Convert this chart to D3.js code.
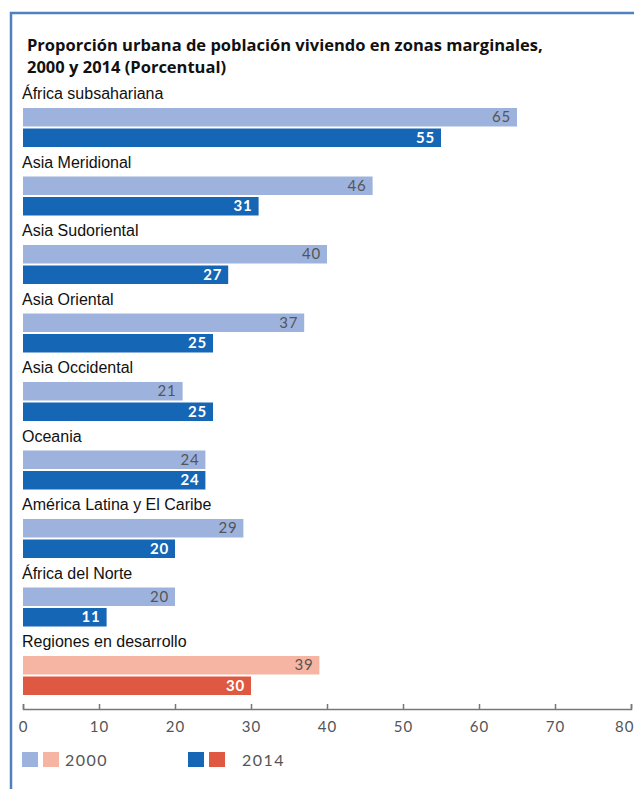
<!DOCTYPE html>
<html>
<head>
<meta charset="utf-8">
<script src="https://cdn.jsdelivr.net/npm/d3@7"></script>
<style>
  body { margin: 0; background: #fff; }
  svg { display: block; }
</style>
</head>
<body>
<svg id="chart" width="634" height="789"></svg>
<script>
// data
const regions = ['África subsahariana', 'Asia Meridional', 'Asia Sudoriental', 'Asia Oriental',
  'Asia Occidental', 'Oceania', 'América Latina y El Caribe', 'África del Norte', 'Regiones en desarrollo'];
const values2000 = [65, 46, 40, 37, 21, 24, 29, 20, 39];
const values2014 = [55, 31, 27, 25, 25, 24, 20, 11, 30];
const ticks = [0, 10, 20, 30, 40, 50, 60, 70, 80];
const years = ['2000', '2014'];

const colors = {
  light: '#9db3de', dark: '#1666b6',
  lightTotal: '#f6b5a2', darkTotal: '#df5942'
};

const svg = d3.select('#chart');

// frame
svg.append('path')
  .attr('d', 'M11,789 V13 H634')
  .attr('fill', 'none')
  .attr('stroke', '#4f81bd')
  .attr('stroke-width', 2.5);

// title
const title = svg.append('text')
  .attr('font-family', 'Open Sans, sans-serif')
  .attr('font-weight', 'bold')
  .attr('font-size', 16.5)
  .attr('fill', '#111');
title.append('tspan').attr('x', 27).attr('y', 51).text('Proporción urbana de población viviendo en zonas marginales,');
title.append('tspan').attr('x', 27).attr('y', 73).text('2000 y 2014 (Porcentual)');

const x = d3.scaleLinear().domain([0, 80]).range([23, 631]);
const y = d3.scaleBand().domain(regions).range([108, 724.5]).paddingInner(0).paddingOuter(0);

const barH = 18.5, gap = 2;

const groups = svg.selectAll('.grp')
  .data(regions)
  .enter()
  .append('g')
  .attr('class', 'grp')
  .attr('transform', d => `translate(0,${y(d)})`);

groups.append('text')
  .attr('x', 22)
  .attr('y', -9)
  .attr('font-family', 'Liberation Sans Narrow, Arial Narrow, Liberation Sans, sans-serif')
  .attr('font-size', 16)
  .attr('fill', '#111')
  .text(d => d);

groups.append('rect')
  .attr('x', x(0))
  .attr('y', 0)
  .attr('height', barH)
  .attr('width', (d, i) => x(values2000[i]) - x(0))
  .attr('fill', (d, i) => i === regions.length - 1 ? colors.lightTotal : colors.light);

groups.append('rect')
  .attr('x', x(0))
  .attr('y', barH + gap)
  .attr('height', barH)
  .attr('width', (d, i) => x(values2014[i]) - x(0))
  .attr('fill', (d, i) => i === regions.length - 1 ? colors.darkTotal : colors.dark);

groups.append('text')
  .attr('x', (d, i) => x(values2000[i]) - 6)
  .attr('y', barH / 2 + 5)
  .attr('text-anchor', 'end')
  .attr('font-family', 'Lato, Open Sans, sans-serif')
  .attr('font-size', 15)
  .attr('letter-spacing', 0.8)
  .attr('fill', '#555')
  .text((d, i) => values2000[i]);

groups.append('text')
  .attr('x', (d, i) => x(values2014[i]) - 6)
  .attr('y', barH + gap + barH / 2 + 5)
  .attr('text-anchor', 'end')
  .attr('font-family', 'Lato, Open Sans, sans-serif')
  .attr('font-size', 15)
  .attr('font-weight', 'bold')
  .attr('letter-spacing', 0.8)
  .attr('fill', '#fff')
  .text((d, i) => values2014[i]);

// axis
const axis = svg.append('g')
  .attr('transform', 'translate(0,709)')
  .call(d3.axisBottom(x).tickValues(ticks).tickSize(-5).tickPadding(12));
axis.select('.domain').attr('stroke', '#777').attr('stroke-width', 1.5);
axis.selectAll('.tick line').attr('stroke', '#777').attr('stroke-width', 1.5);
axis.selectAll('.tick text')
  .attr('font-family', 'Lato, Open Sans, sans-serif')
  .attr('font-size', 15)
  .attr('letter-spacing', 1)
  .attr('fill', '#555');
// keep the last label inside the page
axis.selectAll('.tick text').filter(d => d === 80)
  .attr('text-anchor', 'end')
  .attr('x', 3);

// legend
const legend = svg.append('g').attr('transform', 'translate(22,752)');
const legendItems = [
  { label: years[0], cols: [colors.light, colors.lightTotal], x: 0, tx: 43 },
  { label: years[1], cols: [colors.dark, colors.darkTotal], x: 166, tx: 54 }
];
legendItems.forEach(it => {
  it.cols.forEach((c, j) => {
    legend.append('rect')
      .attr('x', it.x + j * 21)
      .attr('y', 0)
      .attr('width', 16)
      .attr('height', 15)
      .attr('fill', c);
  });
  legend.append('text')
    .attr('x', it.x + it.tx)
    .attr('y', 14)
    .attr('font-family', 'Lato, Open Sans, sans-serif')
    .attr('font-size', 16)
    .attr('letter-spacing', 1.5)
    .attr('fill', '#555')
    .text(it.label);
});
</script>
</body>
</html>
